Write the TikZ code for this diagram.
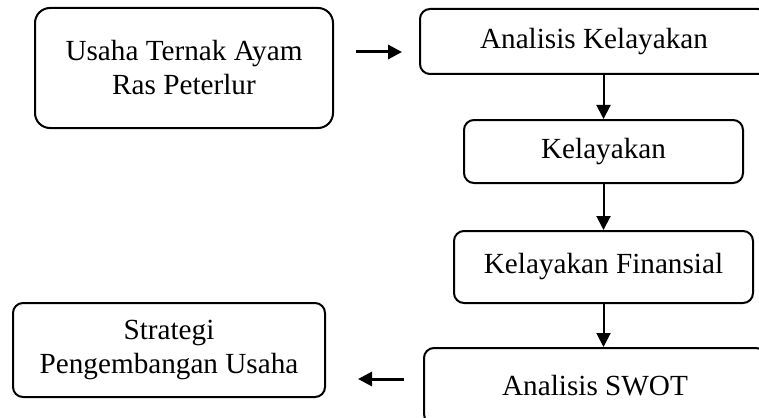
\documentclass[tikz,border=0pt]{standalone}
\usepackage{fontspec}
\setmainfont{Liberation Serif}
\usetikzlibrary{arrows.meta}

\begin{document}
\begin{tikzpicture}[x=0.5pt,y=-0.5pt,
    box/.style={draw,line width=1pt,rounded corners=5pt,align=center,inner sep=0pt,
      font=\fontsize{14.6}{17}\selectfont},
    harrow/.style={line width=1.5pt,-{Triangle[length=7pt,width=7pt]}},
    varrow/.style={line width=1pt,-{Triangle[length=7pt,width=7pt]}}]
	% Frame of the picture
	\useasboundingbox (0,0) rectangle (759,417);
	\clip (0,0) rectangle (759,417);
	
	% Draw the boxes
	\node[box,rounded corners=7.5pt,minimum width=149pt,minimum height=60pt] (usaha) at (184,68) {Usaha Ternak Ayam\\Ras Peterlur};
	\node[box,minimum width=174pt,minimum height=32.5pt] (analisis) at (594,41.5) {Analisis Kelayakan};
	\node[box,minimum width=139.5pt,minimum height=31.5pt] (kelayakan) at (603.5,151.5) {Kelayakan};
	\node[box,minimum width=149.5pt,minimum height=36pt] (finansial) at (603.5,267) {Kelayakan Finansial};
	\node[box,minimum width=171pt,minimum height=38pt] (swot) at (595,386) {Analisis SWOT};
	\node[box,minimum width=156pt,minimum height=47pt] (strategi) at (169,350) {Strategi\\Pengembangan Usaha};
	
	% Draw the arrows
	\draw[harrow,shorten <=11pt,shorten >=8.5pt] ([yshift=8pt]usaha.east) -- ([yshift=8pt]usaha.east -| analisis.west);
	\draw[varrow] (analisis.south -| kelayakan.north) -- (kelayakan.north);
	\draw[varrow] (kelayakan.south) -- (finansial.north);
	\draw[varrow] (finansial.south) -- (finansial.south |- swot.north);
	\draw[harrow,shorten <=9.5pt,shorten >=16pt] ([yshift=-14.5pt]strategi.east -| swot.west) -- ([yshift=-14.5pt]strategi.east);
\end{tikzpicture}
\end{document}
